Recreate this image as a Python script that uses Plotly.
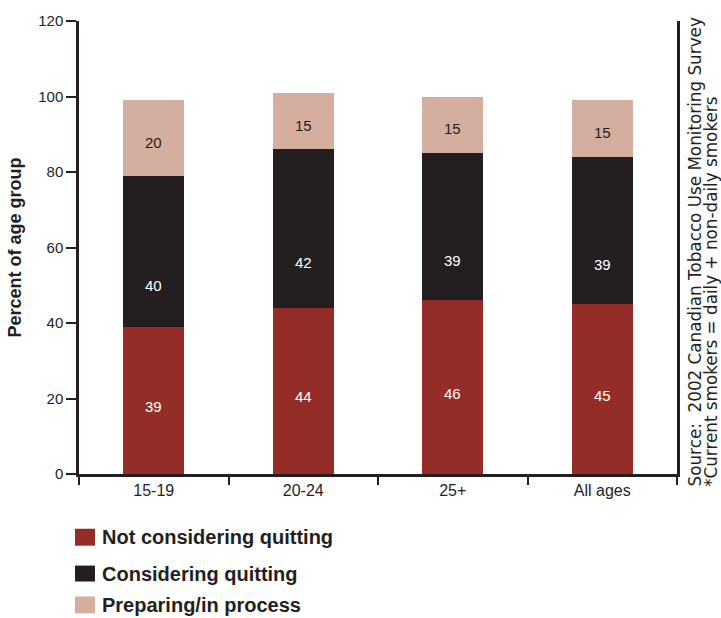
import plotly.graph_objects as go

# Smokers' readiness to quit, by age group (percent of age group)
age_groups = ["15-19", "20-24", "25+", "All ages"]
not_considering = [39, 44, 46, 45]
considering = [40, 42, 39, 39]
preparing = [20, 15, 15, 15]

series_names = ["Not considering quitting", "Considering quitting", "Preparing/in process"]
series_values = [not_considering, considering, preparing]
series_colors = ["#942D28", "#231F20", "#D4AF9F"]
label_colors = ["#FFFFFF", "#FFFFFF", "#231F20"]
label_shift = [-6, -34, -4]  # vertical nudge of the value labels inside each segment

y_ticks = [0, 20, 40, 60, 80, 100, 120]

source_lines = ["Source:  2002 Canadian Tobacco Use Monitoring Survey",
                "*Current smokers = daily + non-daily smokers"]

fig = go.Figure()
base = [0] * len(age_groups)
for name, vals, col, tcol, shift in zip(series_names, series_values, series_colors,
                                         label_colors, label_shift):
    fig.add_trace(go.Bar(
        x=age_groups, y=vals, name=name,
        marker=dict(color=col, line=dict(width=0)),
        showlegend=False,
    ))
    # value labels placed mid-segment
    for cat, b, v in zip(age_groups, base, vals):
        fig.add_annotation(x=cat, y=b + v / 2, text=str(v), showarrow=False,
                           yshift=shift,
                           font=dict(family="Liberation Sans, Arial", size=15, color=tcol))
    base = [b + v for b, v in zip(base, vals)]

# Legend drawn as swatches plus bold labels below the plot
W, L, TOP, BOT = 598.0, 79.0, 19.0, 474.0
def px_x(p):
    return (p - L) / W
def px_y(p):
    return (BOT - p) / (BOT - TOP)

swatch_rows = [(529, 546), (566, 582), (597, 614)]
for name, col, (y0, y1) in zip(series_names, series_colors, swatch_rows):
    fig.add_shape(type="rect", xref="paper", yref="paper",
                  x0=px_x(75), x1=px_x(95), y0=px_y(y1), y1=px_y(y0),
                  fillcolor=col, line=dict(width=0))
    fig.add_annotation(xref="paper", yref="paper", x=px_x(100), y=px_y((y0 + y1) / 2),
                       xanchor="left", yanchor="middle", showarrow=False,
                       text="<b>%s</b>" % name,
                       font=dict(family="Liberation Sans, Arial", size=20, color="#231F20"))

# Rotated source note on the right edge, one annotation per line
for line, cx in zip(source_lines, [695, 711]):
    fig.add_annotation(xref="paper", yref="paper", x=px_x(cx), y=px_y(489),
                       xanchor="center", yanchor="bottom", textangle=-90, showarrow=False,
                       text=line,
                       font=dict(family="DejaVu Sans", size=16.8, color="#231F20"))

fig.update_layout(
    width=721, height=618,
    margin=dict(l=79, r=44, t=19, b=144),
    barmode="stack", bargap=0.59,
    plot_bgcolor="white", paper_bgcolor="white",
    font=dict(family="Liberation Sans, Arial", color="#231F20"),
)
fig.update_xaxes(
    type="category", tickson="boundaries", ticks="outside", ticklen=8,
    tickwidth=2, tickcolor="#231F20", showline=True, linewidth=2.5, linecolor="#231F20",
    tickfont=dict(size=16, color="#231F20"), showgrid=False,
)
fig.update_yaxes(
    range=[0, 120], tickvals=y_ticks, ticks="outside", ticklen=10, tickwidth=2,
    tickcolor="#231F20", showline=True, linewidth=2.5, linecolor="#231F20",
    mirror=True, showgrid=False, zeroline=False,
    tickfont=dict(size=15, color="#231F20"),
    title=dict(text="<b>Percent of age group</b>", standoff=12,
               font=dict(size=18, color="#231F20")),
)

fig.write_html("out.html")
